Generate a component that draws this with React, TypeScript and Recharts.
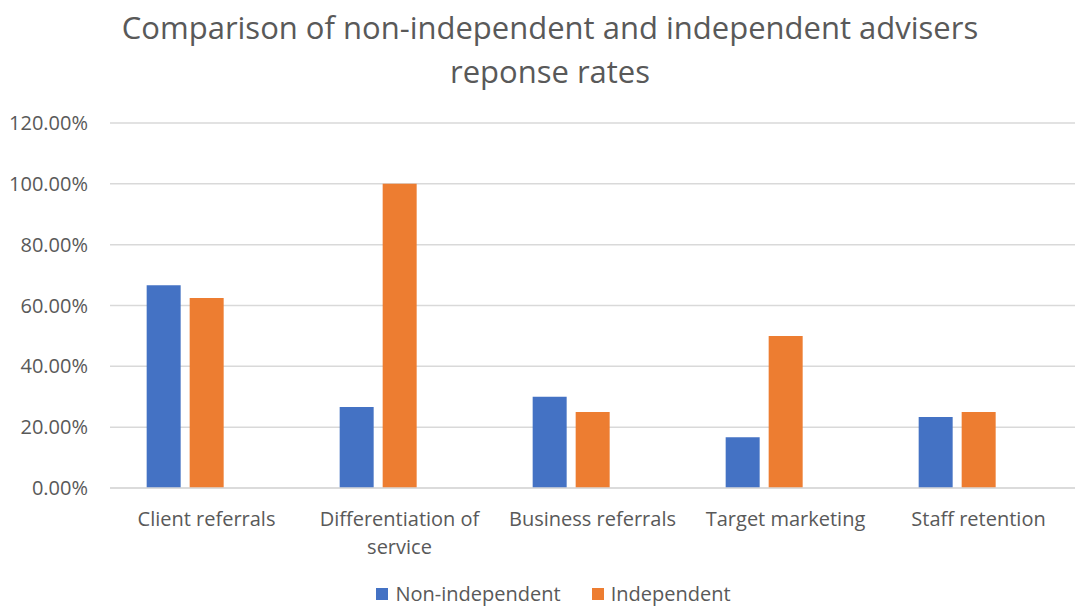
import React from 'react';
import { BarChart, Bar, XAxis, YAxis, CartesianGrid, Legend } from 'recharts';

const categories = ['Client referrals', 'Differentiation of service', 'Business referrals', 'Target marketing', 'Staff retention'];
const nonIndependent = [0.6667, 0.2667, 0.3, 0.1667, 0.2333];
const independent = [0.625, 1.0, 0.25, 0.5, 0.25];
const yTicks = [0, 0.2, 0.4, 0.6, 0.8, 1.0, 1.2];
const titleLines = ['Comparison of non-independent and independent advisers', 'reponse rates'];
const legendOrder = ['Non-independent', 'Independent'];

const data = categories.map((c, i) => ({
  name: c,
  nonIndependent: nonIndependent[i],
  independent: independent[i],
  blank: null,
}));

const FONT = '"Open Sans", "Noto Sans", sans-serif';
const TEXT = '#595959';

function wrap(text: string, max: number): string[] {
  const words = text.split(' ');
  const lines: string[] = [];
  let cur = '';
  for (const w of words) {
    const t = cur ? cur + ' ' + w : w;
    if (t.length > max && cur) {
      lines.push(cur);
      cur = w;
    } else cur = t;
  }
  if (cur) lines.push(cur);
  return lines;
}

const XTick = (props: any) => {
  const { x, y, payload } = props;
  const lines = wrap(payload.value, 20);
  return (
    <text x={x} y={y} textAnchor="middle" fill={TEXT} fontSize={20} fontFamily={FONT}>
      {lines.map((l, i) => (
        <tspan key={i} x={x} dy={i === 0 ? 30 : 28}>{l}</tspan>
      ))}
    </text>
  );
};

const LegendContent = (props: any) => {
  const items = (props.payload || [])
    .filter((p: any) => legendOrder.includes(p.value))
    .sort((a: any, b: any) => legendOrder.indexOf(a.value) - legendOrder.indexOf(b.value));
  return (
    <div style={{ display: 'flex', justifyContent: 'center', gap: 31, fontFamily: FONT, fontSize: 20, color: TEXT, marginLeft: 32, marginTop: 3, lineHeight: '26px' }}>
      {items.map((p: any) => (
        <div key={p.value} style={{ display: 'flex', alignItems: 'center' }}>
          <span style={{ display: 'inline-block', width: 12, height: 12, background: p.color, marginRight: 7 }} />
          <span>{p.value}</span>
        </div>
      ))}
    </div>
  );
};

export default function App() {
  return (
    <div style={{ position: 'absolute', left: 0, top: 0, width: 1080, height: 608, background: '#fff', overflow: 'hidden' }}>
      <div style={{ position: 'absolute', left: 0, top: 5, width: 1100, textAlign: 'center', fontFamily: FONT, fontSize: 31, color: TEXT, lineHeight: '44px' }}>
        {titleLines.map((l) => (
          <div key={l}>{l}</div>
        ))}
      </div>
      <BarChart
        width={1080}
        height={608}
        data={data}
        margin={{ top: 123, right: 5, left: 0, bottom: 0 }}
        barCategoryGap="19%"
        barGap={9}
      >
        <CartesianGrid vertical={false} stroke="#D9D9D9" strokeWidth={1.5} />
        <XAxis
          dataKey="name"
          tick={<XTick />}
          tickLine={false}
          axisLine={{ stroke: '#D9D9D9', strokeWidth: 1.5 }}
          height={90}
          interval={0}
        />
        <YAxis
          domain={[0, 1.2]}
          ticks={yTicks}
          tickFormatter={(v: number) => (v * 100).toFixed(2) + '%'}
          tick={{ fill: TEXT, fontSize: 20, fontFamily: FONT }}
          tickLine={false}
          axisLine={false}
          width={110}
          tickMargin={16}
        />
        <Legend verticalAlign="bottom" height={30} content={<LegendContent />} />
        <Bar dataKey="nonIndependent" name="Non-independent" fill="#4472C4" isAnimationActive={false} />
        <Bar dataKey="independent" name="Independent" fill="#ED7D31" isAnimationActive={false} />
        <Bar dataKey="blank" name="blank" fill="#A5A5A5" legendType="none" isAnimationActive={false} />
      </BarChart>
    </div>
  );
}
